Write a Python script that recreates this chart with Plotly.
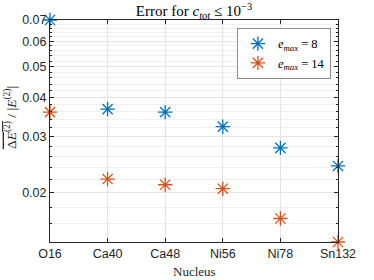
import plotly.graph_objects as go
import numpy as np

nuclei = ["O16", "Ca40", "Ca48", "Ni56", "Ni78", "Sn132"]
emax8 = [0.0700, 0.0367, 0.0359, 0.0323, 0.0277, 0.0243]
emax14 = [0.0359, 0.0221, 0.0212, 0.0206, 0.0166, 0.0140]
ytick_vals = [0.02, 0.03, 0.04, 0.05, 0.06, 0.07]
ytick_text = ["0.02", "0.03", "0.04", "0.05", "0.06", "0.07"]
yminor_vals = [0.014, 0.016, 0.018, 0.022, 0.024, 0.026, 0.028,
               0.032, 0.034, 0.036, 0.038, 0.042, 0.044, 0.046, 0.048,
               0.052, 0.054, 0.056, 0.058, 0.062, 0.064, 0.066, 0.068]

blue = "#0072BD"
orange = "#D95319"
axcol = "#262626"
serif = "Liberation Serif, DejaVu Serif, serif"
sans = "Liberation Sans, Arial, sans-serif"

xpos = list(range(1, len(nuclei) + 1))

fig = go.Figure()
fig.add_trace(go.Scatter(
    x=xpos, y=emax8, mode="markers", cliponaxis=False,
    name="<i>e</i><sub><i>max</i></sub> = 8",
    marker=dict(symbol="asterisk-open", size=12, color=blue,
                line=dict(color=blue, width=1.3))))
fig.add_trace(go.Scatter(
    x=xpos, y=emax14, mode="markers", cliponaxis=False,
    name="<i>e</i><sub><i>max</i></sub> = 14",
    marker=dict(symbol="asterisk-open", size=12, color=orange,
                line=dict(color=orange, width=1.3))))

fig.update_layout(
    width=374, height=280,
    margin=dict(l=50, r=36, t=20, b=38),
    paper_bgcolor="white", plot_bgcolor="white",
    showlegend=True,
    title=dict(text="Error for <i>c</i><sub><i>tot</i></sub> ≤ 10<sup>−3</sup>",
               x=194 / 374, xanchor="center", y=1 - 11 / 280, yanchor="middle",
               font=dict(family=serif, size=15, color="black")),
    legend=dict(x=0.649, y=0.964, xanchor="left", yanchor="top",
                bgcolor="white", bordercolor="#8c8c8c", borderwidth=1,
                font=dict(family=serif, size=12.5, color="black"),
                itemwidth=30, tracegroupgap=0),
    xaxis=dict(range=[1, 6], tickvals=xpos, ticktext=nuclei,
               showline=True, linecolor=axcol, linewidth=1, mirror="ticks",
               ticks="inside", ticklen=4, tickcolor=axcol,
               showgrid=True, gridcolor="#e3e3e3", gridwidth=1,
               zeroline=False,
               tickfont=dict(family=sans, size=12.5, color=axcol)),
    yaxis=dict(type="log", range=[np.log10(0.014), np.log10(0.07)],
               tickvals=ytick_vals, ticktext=ytick_text,
               showline=True, linecolor=axcol, linewidth=1, mirror="ticks",
               ticks="inside", ticklen=4, tickcolor=axcol,
               showgrid=True, gridcolor="#e3e3e3", gridwidth=1,
               zeroline=False,
               tickfont=dict(family=sans, size=12.5, color=axcol),
               minor=dict(tickvals=yminor_vals, ticks="inside", ticklen=2,
                          tickcolor=axcol, showgrid=True,
                          gridcolor="#f0f0f0", gridwidth=1)),
    annotations=[
        dict(text="<span style='text-decoration:overline'>Δ<i>E</i><sup>(2)</sup></span>"
                  " / |<i>E</i><sup>(2)</sup>|",
             xref="paper", yref="paper", x=(10 - 50) / 288, y=(242 - 118) / 222,
             xanchor="center", yanchor="middle", textangle=-90, showarrow=False,
             font=dict(family=serif, size=13.5, color=axcol)),
        dict(text="Nucleus", xref="paper", yref="paper", x=0.5,
             y=-(271 - 242) / 222, xanchor="center", yanchor="middle",
             showarrow=False, font=dict(family=serif, size=13, color=axcol)),
    ],
)

fig.write_html("out.html",
               config={"displayModeBar": False},
               post_script="document.body.style.margin='0';"
                           "document.body.style.overflow='hidden';")
